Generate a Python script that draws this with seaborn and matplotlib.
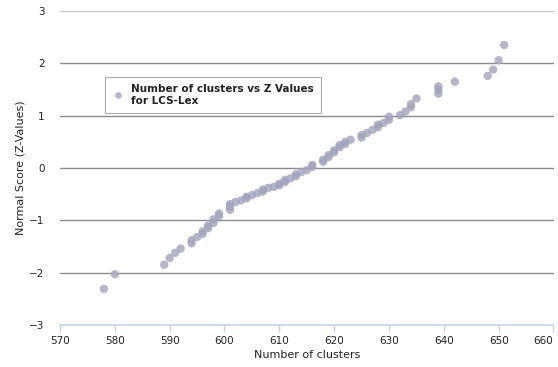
import matplotlib
matplotlib.use("Agg")
import matplotlib.pyplot as plt
import seaborn as sns
import pandas as pd

clusters = [578, 580, 589, 590, 591, 592, 594, 594, 595, 596, 596, 597, 597,
            598, 598, 599, 599, 601, 601, 601, 602, 603, 604, 604, 605, 606,
            607, 607, 608, 609, 610, 610, 611, 611, 612, 613, 613, 614, 615,
            616, 616, 618, 618, 619, 619, 620, 620, 621, 621, 622, 622, 623,
            625, 625, 626, 627, 628, 628, 629, 630, 630, 632, 633, 634, 634,
            635, 639, 639, 639, 642, 648, 649, 650, 651]
z_values = [-2.31, -2.03, -1.85, -1.72, -1.62, -1.54, -1.44, -1.38, -1.32,
            -1.26, -1.21, -1.15, -1.10, -1.05, -0.98, -0.92, -0.87, -0.80,
            -0.74, -0.69, -0.65, -0.62, -0.58, -0.55, -0.52, -0.48, -0.45,
            -0.41, -0.38, -0.36, -0.33, -0.30, -0.27, -0.23, -0.20, -0.16,
            -0.12, -0.08, -0.04, 0.02, 0.06, 0.12, 0.16, 0.21, 0.25, 0.30,
            0.34, 0.40, 0.44, 0.46, 0.50, 0.54, 0.58, 0.63, 0.67, 0.73, 0.78,
            0.83, 0.86, 0.92, 0.98, 1.01, 1.08, 1.16, 1.22, 1.33, 1.42, 1.49,
            1.56, 1.65, 1.76, 1.88, 2.06, 2.35]
x_ticks = [570, 580, 590, 600, 610, 620, 630, 640, 650, 660]
y_ticks = [-3, -2, -1, 0, 1, 2, 3]
series_name = "Number of clusters vs Z Values\nfor LCS-Lex"

df = pd.DataFrame({"clusters": clusters, "z": z_values, "series": series_name})

sns.set_style("white")
plt.rcParams['font.family'] = ['DejaVu Sans']

fig = plt.figure(figsize=(5.58, 3.67), dpi=100)
ax = fig.add_axes([60 / 558, 1 - 325 / 367, 493.5 / 558, 314 / 367])

# horizontal grid lines
for yv in y_ticks[1:-1]:
    ax.axhline(yv, color="#8c8c8c", lw=1.0, zorder=1)
ax.axhline(3, color="#c4c4c4", lw=1.6, zorder=1)

sns.scatterplot(data=df, x="clusters", y="z", hue="series",
                palette=["#a3a3bd"], s=36, alpha=0.8, edgecolor="none",
                ax=ax, zorder=3)

ax.set_xlim(570, 660)
ax.set_ylim(-3, 3)
ax.set_xticks(x_ticks)
ax.set_yticks(y_ticks)
ax.set_xticklabels([str(v) for v in x_ticks], fontsize=7.5, color="#222222")
xl = ax.get_xticklabels()
xl[-1].set_horizontalalignment("right")
ax.set_yticklabels(["\u2212" + str(-v) if v < 0 else str(v) for v in y_ticks],
                   fontsize=7.5, color="#222222")
ax.tick_params(axis="x", direction="out", length=5, width=1, color="#c5d3ea", pad=3,
               bottom=True)
ax.tick_params(axis="y", length=0, pad=11)

for side in ["top", "right", "left"]:
    ax.spines[side].set_visible(False)
ax.spines["bottom"].set_color("#c5d3ea")
ax.spines["bottom"].set_linewidth(1.2)
ax.spines["bottom"].set_zorder(2)

ax.set_xlabel("Number of clusters", fontsize=8, color="#222222", labelpad=3)
ax.set_ylabel("Normal Score (Z-Values)", fontsize=8, color="#222222", labelpad=3)

leg = ax.legend(loc="upper left", bbox_to_anchor=(0.091, 0.79), borderaxespad=0,
                frameon=True, fancybox=False, fontsize=7.5, handletextpad=0.6,
                borderpad=0.7, handlelength=1.2, markerscale=0.8)
leg.get_frame().set_edgecolor("#999999")
leg.get_frame().set_linewidth(0.8)
for t in leg.get_texts():
    t.set_fontweight("bold")
    t.set_color("#222222")

fig.savefig("out.png", dpi=100)
